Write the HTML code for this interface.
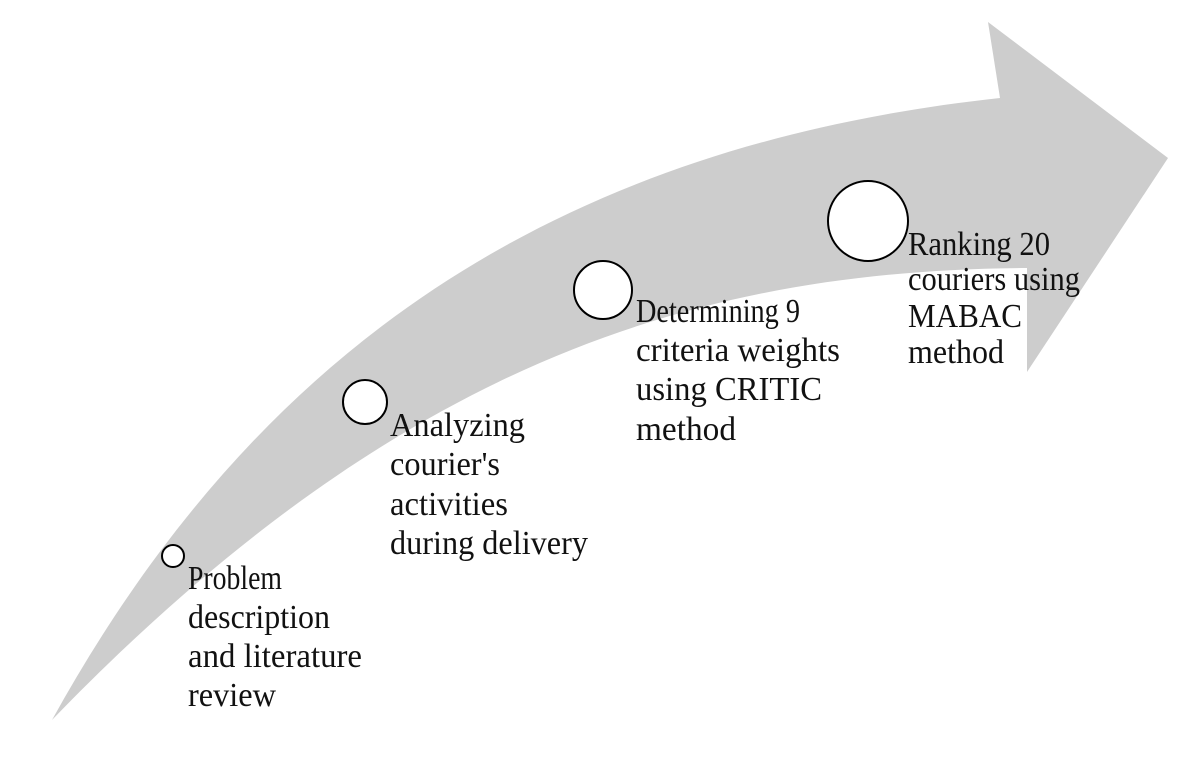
<!DOCTYPE html>
<html><head><style>
body{margin:0;width:1203px;height:767px;background:#fff;overflow:hidden}
svg{position:absolute;left:0;top:0}
text{font-family:"Liberation Serif",serif;font-size:34px;fill:#111}
</style></head><body>
<svg width="1203" height="767">
<path d="M52,720 C240,380 520,150 1000,98 L988,22 L1168,158 L1027,372 L1027,268 C700,270 400,360 52,720 Z" fill="#cdcdcd"/>
<g fill="#fff" stroke="#000" stroke-width="2">
<circle cx="173" cy="556" r="11"/>
<circle cx="365" cy="402" r="22"/>
<circle cx="603" cy="290" r="29"/>
<circle cx="868" cy="221" r="40"/>
</g>
<text x="188" y="589" textLength="94" lengthAdjust="spacingAndGlyphs">Problem</text>
<text x="188" y="628" textLength="142" lengthAdjust="spacingAndGlyphs">description</text>
<text x="188" y="667" textLength="174" lengthAdjust="spacingAndGlyphs">and literature</text>
<text x="188" y="706" textLength="88" lengthAdjust="spacingAndGlyphs">review</text>
<text x="390" y="436" textLength="135" lengthAdjust="spacingAndGlyphs">Analyzing</text>
<text x="390" y="475" textLength="110" lengthAdjust="spacingAndGlyphs">courier's</text>
<text x="390" y="515" textLength="118" lengthAdjust="spacingAndGlyphs">activities</text>
<text x="390" y="554" textLength="198" lengthAdjust="spacingAndGlyphs">during delivery</text>
<text x="636" y="322" textLength="164" lengthAdjust="spacingAndGlyphs">Determining 9</text>
<text x="636" y="361" textLength="204" lengthAdjust="spacingAndGlyphs">criteria weights</text>
<text x="636" y="400" textLength="186" lengthAdjust="spacingAndGlyphs">using CRITIC</text>
<text x="636" y="440" textLength="100" lengthAdjust="spacingAndGlyphs">method</text>
<text x="908" y="255" textLength="142" lengthAdjust="spacingAndGlyphs">Ranking 20</text>
<text x="908" y="290" textLength="172" lengthAdjust="spacingAndGlyphs">couriers using</text>
<text x="908" y="327" textLength="114" lengthAdjust="spacingAndGlyphs">MABAC</text>
<text x="908" y="363" textLength="96" lengthAdjust="spacingAndGlyphs">method</text>
</svg>
</body></html>
